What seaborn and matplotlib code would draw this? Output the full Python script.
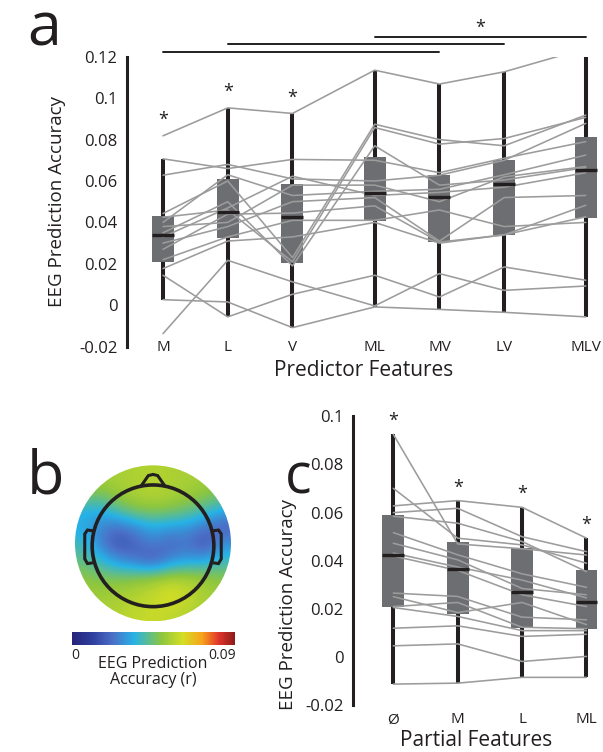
import numpy as np
import pandas as pd
import matplotlib
matplotlib.use("Agg")
import matplotlib.pyplot as plt
import seaborn as sns
from matplotlib.colors import LinearSegmentedColormap, Normalize
from matplotlib.patches import Circle, Polygon
from matplotlib.lines import Line2D
import matplotlib.cm as cm

# ---------------- data ----------------
# panel a: predictor feature sets, one value per subject (16 subjects)
cond_a = ["M", "L", "V", "ML", "MV", "LV", "MLV"]
acc_M = [0.0818, -0.0137, 0.0027, 0.0145, 0.0707, 0.0628, 0.0443, 0.0425, 0.040, 0.038, 0.035, 0.033, 0.030, 0.027, 0.022, 0.0177]
acc_L = [0.0953, 0.0217, 0.0016, -0.0056, 0.066, 0.068, 0.060, 0.046, 0.063, 0.040, 0.050, 0.047, 0.038, 0.044, 0.033, 0.031]
acc_V = [0.0926, 0.0113, -0.0108, 0.0053, 0.0704, 0.061, 0.023, 0.021, 0.053, 0.058, 0.019, 0.0623, 0.050, 0.0445, 0.041, 0.033]
acc_ML = [0.1135, -0.0003, -0.0008, 0.0145, 0.070, 0.060, 0.0874, 0.0858, 0.055, 0.058, 0.077, 0.053, 0.052, 0.048, 0.041, 0.040]
acc_MV = [0.1068, 0.0153, -0.002, 0.004, 0.064, 0.0628, 0.080, 0.0778, 0.056, 0.050, 0.058, 0.0545, 0.031, 0.0305, 0.046, 0.030]
acc_LV = [0.1127, 0.0072, -0.0034, 0.0185, 0.071, 0.070, 0.077, 0.0805, 0.063, 0.062, 0.0605, 0.057, 0.052, 0.034, 0.038, 0.034]
acc_MLV = [0.124, 0.0093, -0.0056, 0.0121, 0.079, 0.0878, 0.0918, 0.0907, 0.0725, 0.067, 0.0665, 0.064, 0.053, 0.0483, 0.040, 0.0427]
sig_a_single = ["M", "L", "V"]           # starred individual conditions
sig_a_pairs = [("M", "MV"), ("L", "LV"), ("ML", "MLV")]

# panel c: partial features
cond_c = ["Ø", "M", "L", "ML"]
part_0 = [0.0925, 0.0701, 0.0628, 0.060, 0.0585, 0.0517, 0.0473, 0.0432, 0.042, 0.0266, 0.0251, 0.021, 0.0206, 0.012, 0.0047, -0.0112]
part_M = [0.047, 0.0494, 0.065, 0.0618, 0.0556, 0.0425, 0.0404, 0.0374, 0.036, 0.0252, 0.0185, 0.0227, 0.0169, 0.013, 0.0055, -0.0108]
part_L = [0.045, 0.0466, 0.0622, 0.050, 0.048, 0.0346, 0.0285, 0.032, 0.0259, 0.0166, 0.0227, 0.0124, 0.011, 0.0086, -0.0018, -0.0084]
part_ML = [0.0424, 0.039, 0.0494, 0.0438, 0.0355, 0.029, 0.0259, 0.0246, 0.021, 0.0155, 0.0135, 0.0118, 0.011, 0.0095, 0.0003, -0.0084]

# panel b: scalp map of prediction accuracy (coarse grid, rows top->bottom)
topo_grid = [
    [0.058, 0.058, 0.058, 0.059, 0.060, 0.059, 0.058, 0.057, 0.056],
    [0.054, 0.052, 0.057, 0.059, 0.061, 0.059, 0.057, 0.055, 0.050],
    [0.038, 0.036, 0.047, 0.053, 0.054, 0.053, 0.049, 0.044, 0.038],
    [0.034, 0.028, 0.024, 0.030, 0.036, 0.033, 0.032, 0.026, 0.018],
    [0.040, 0.026, 0.014, 0.020, 0.027, 0.020, 0.024, 0.014, 0.030],
    [0.046, 0.038, 0.030, 0.024, 0.016, 0.028, 0.032, 0.033, 0.040],
    [0.053, 0.051, 0.050, 0.052, 0.055, 0.058, 0.058, 0.055, 0.052],
    [0.056, 0.056, 0.058, 0.060, 0.063, 0.069, 0.064, 0.058, 0.055],
    [0.058, 0.058, 0.060, 0.062, 0.064, 0.062, 0.060, 0.058, 0.056],
]
cbar_ticks = [0, 0.09]

# ---------------- style ----------------
sns.set_style("white")
plt.rcParams["font.family"] = ["Open Sans", "DejaVu Sans"]
BOX = "#6d6e71"
DARK = "#231f20"
LINE = "#9c9c9c"

pos_a = [0, 1, 2, 3.27, 4.27, 5.27, 6.53]   # layout positions of the categories
pos_c = [0, 1, 2, 3]

W, H = 603, 752
fig = plt.figure(figsize=(W / 100, H / 100), dpi=100)

def rect(x0, y0, x1, y1):
    return [x0 / W, 1 - y1 / H, (x1 - x0) / W, (y1 - y0) / H]

def long_frame(arrs, pos):
    rows = []
    for p, arr in zip(pos, arrs):
        for s, v in enumerate(arr):
            rows.append({"pos": p, "acc": v, "subj": s})
    return pd.DataFrame(rows)

def paired_box(ax, df, width):
    sns.boxplot(data=df, x="pos", y="acc", native_scale=True, width=width,
                color=BOX, saturation=1, linecolor=DARK, showfliers=False, whis=1.5,
                boxprops=dict(edgecolor="none", linewidth=0, zorder=2),
                medianprops=dict(color=DARK, linewidth=2.4, zorder=4),
                whiskerprops=dict(color=DARK, linewidth=2.9, zorder=2),
                capprops=dict(linewidth=0), ax=ax)
    sns.lineplot(data=df, x="pos", y="acc", units="subj", estimator=None,
                 color=LINE, linewidth=1.15, ax=ax, zorder=3, legend=False)

def style_axis(ax, yticks, ylabels):
    for s in ["top", "right", "bottom"]:
        ax.spines[s].set_visible(False)
    ax.spines["left"].set_linewidth(2.2)
    ax.spines["left"].set_color(DARK)
    ax.set_yticks(yticks)
    ax.set_yticklabels(ylabels)
    ax.tick_params(axis="y", direction="in", length=5, width=1.5, color=DARK,
                   labelsize=12, pad=7, labelcolor=DARK)
    ax.set_facecolor("none")

# ---------------- panel a ----------------
ax_a = fig.add_axes(rect(127, 56.7, 600, 346.7))
df_a = long_frame([acc_M, acc_L, acc_V, acc_ML, acc_MV, acc_LV, acc_MLV], pos_a)
paired_box(ax_a, df_a, 0.34)
ax_a.set_xlim(-0.556, 6.75)
ax_a.set_ylim(-0.02, 0.12)
style_axis(ax_a, [-0.02, 0, 0.02, 0.04, 0.06, 0.08, 0.1, 0.12],
           ["-0.02", "0", "0.02", "0.04", "0.06", "0.08", "0.1", "0.12"])
ax_a.set_xticks(pos_a)
ax_a.set_xticklabels(cond_a)
ax_a.tick_params(axis="x", length=0, labelsize=11, pad=-5, labelcolor=DARK)
ax_a.set_xlabel("Predictor Features", fontsize=15, color=DARK, labelpad=4)
ax_a.set_ylabel("EEG Prediction Accuracy", fontsize=13.5, color=DARK, labelpad=9)

arr_map = dict(zip(cond_a, [acc_M, acc_L, acc_V, acc_ML, acc_MV, acc_LV, acc_MLV]))
pmap = dict(zip(cond_a, pos_a))
for c in sig_a_single:
    ax_a.text(pmap[c], max(arr_map[c]) + 0.0075, "*", ha="center", va="center",
              fontsize=13, color=DARK)
bar_h = [0.1225, 0.1261, 0.1295]
for (c0, c1), h in zip(sig_a_pairs, bar_h):
    ax_a.add_line(Line2D([pmap[c0], pmap[c1]], [h, h], color=DARK, lw=1.4, clip_on=False))
top0, top1 = sig_a_pairs[-1]
ax_a.text((pmap[top0] + pmap[top1]) / 2, 0.1338, "*", ha="center", va="center",
          fontsize=13, color=DARK, clip_on=False)

# ---------------- panel c ----------------
ax_c = fig.add_axes(rect(353, 416.3, 600, 705.3))
df_c = long_frame([part_0, part_M, part_L, part_ML], pos_c)
paired_box(ax_c, df_c, 0.34)
ax_c.set_xlim(-0.626, 3.21)
ax_c.set_ylim(-0.02, 0.1)
style_axis(ax_c, [-0.02, 0, 0.02, 0.04, 0.06, 0.08, 0.1],
           ["-0.02", "0", "0.02", "0.04", "0.06", "0.08", "0.1"])
ax_c.set_xticks(pos_c)
ax_c.set_xticklabels(cond_c)
ax_c.tick_params(axis="x", length=0, labelsize=11, pad=5, labelcolor=DARK)
ax_c.set_xlabel("Partial Features", fontsize=15, color=DARK, labelpad=2)
ax_c.set_ylabel("EEG Prediction Accuracy", fontsize=13.5, color=DARK, labelpad=9)
ax_c.yaxis.set_label_coords(-0.225, 0.35)
for p, arr in zip(pos_c, [part_0, part_M, part_L, part_ML]):
    ax_c.text(p, max(arr) + 0.0055, "*", ha="center", va="center", fontsize=13,
              color=DARK, clip_on=False)

# ---------------- panel b ----------------
cmap = LinearSegmentedColormap.from_list(
    "eeg", [(0.0, "#26247a"), (0.12, "#2e3d9c"), (0.25, "#4b6fc6"), (0.38, "#27b2e6"),
            (0.55, "#8dc63f"), (0.68, "#d4de25"), (0.8, "#f7a21b"), (0.9, "#e0352a"),
            (1.0, "#8e1a1c")])
norm = Normalize(vmin=-0.002, vmax=0.098)
R = 78.0
cx, cy = 153.0, 543.3
ax_b = fig.add_axes(rect(cx - 95, cy - 95, cx + 95, cy + 95))
lim = 95 / R
ax_b.set_xlim(-lim, lim)
ax_b.set_ylim(-lim, lim)
ax_b.axis("off")
im = ax_b.imshow(np.array(topo_grid), cmap=cmap, norm=norm, extent=[-1, 1, -1, 1],
                 origin="upper", interpolation="bicubic", zorder=1)
clip = Circle((0, 0), 1.0, transform=ax_b.transData)
im.set_clip_path(clip)
hc = -0.032
hr = 0.78
ax_b.add_patch(Circle((0, hc), hr, fill=False, ec=DARK, lw=2.6, zorder=3))
ax_b.add_patch(Polygon([[-0.15, hc + hr - 0.01], [-0.06, hc + hr + 0.12], [0.0, hc + hr + 0.135],
                        [0.06, hc + hr + 0.12], [0.15, hc + hr - 0.01]],
                       closed=False, fill=False, ec=DARK, lw=2.2, zorder=3))
for sgn in (-1, 1):
    ear = [[0.77, 0.16], [0.84, 0.17], [0.875, 0.12], [0.875, -0.2], [0.84, -0.26], [0.77, -0.25]]
    ax_b.add_patch(Polygon([[sgn * x, y] for x, y in ear], closed=False, fill=False,
                           ec=DARK, lw=2.2, zorder=3))

cax = fig.add_axes(rect(72, 632, 235, 645))
cb = fig.colorbar(cm.ScalarMappable(norm=norm, cmap=cmap), cax=cax, orientation="horizontal")
cb.outline.set_visible(False)
cb.set_ticks(cbar_ticks)
cb.set_ticklabels(["0", "0.09"])
cax.tick_params(length=0, labelsize=10, pad=2, labelcolor=DARK)
fig.text(cx / W, 1 - 664 / H, "EEG Prediction", ha="center", va="center", fontsize=11.5, color=DARK)
fig.text(cx / W, 1 - 680 / H, "Accuracy (r)", ha="center", va="center", fontsize=11.5, color=DARK)

# panel letters
for letter, x, y, fs in [("a", 44, 45, 44), ("b", 45, 494, 44), ("c", 298, 494, 40)]:
    fig.text(x / W, 1 - y / H, letter, ha="center", va="baseline", fontsize=fs, color=DARK)

fig.savefig("out.png", dpi=100)
